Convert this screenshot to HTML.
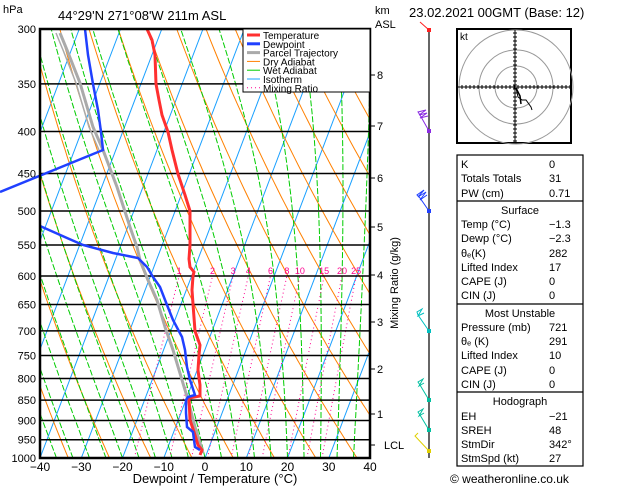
<!DOCTYPE html>
<html><head><meta charset="utf-8">
<style>
html,body{margin:0;padding:0;background:#fff;}
svg{display:block;font-family:"Liberation Sans",sans-serif;}
</style></head>
<body>
<svg id="s" width="629" height="486" viewBox="0 0 629 486" xmlns="http://www.w3.org/2000/svg">
<defs><clipPath id="c"><rect x="40" y="29" width="330" height="429"/></clipPath></defs>
<g id="bg" clip-path="url(#c)"></g>
<g id="fg"></g>
</svg>
<script>
var NS="http://www.w3.org/2000/svg";
var bg=document.getElementById('bg'),fg=document.getElementById('fg'),S=document.getElementById('s');
function el(p,t,a,txt){var e=document.createElementNS(NS,t);for(var k in a)e.setAttribute(k,a[k]);if(txt!=null)e.textContent=txt;p.appendChild(e);return e;}
function Y(p){return 29+Math.log(p/300)/Math.log(1000/300)*429;}
function X(T,p){return 205+T*4.125+(458-Y(p))*0.38;}
function pl(g,pts,a){a.points=pts.map(function(q){return q[0].toFixed(1)+","+q[1].toFixed(1)}).join(" ");a.fill="none";return el(g,"polyline",a);}
// isotherms
for(var T=-130;T<=40;T+=10){pl(bg,[[X(T,1000),458],[X(T,300),29]],{stroke:"#19a0ff","stroke-width":1});}
// dry adiabats
for(var th=220;th<=480;th+=10){var pts=[];for(var p=1000;p>=300;p-=10){pts.push([X(th*Math.pow(p/1000,0.286)-273.15,p),Y(p)]);}pl(bg,pts,{stroke:"#ff8000","stroke-width":1});}
// wet adiabats
function es(T){return 6.112*Math.exp(17.67*T/(T+243.5));}
for(var T0=-40;T0<=40;T0+=4){var T=T0+273.15,pts=[];for(var p=1000;p>=300;p-=5){pts.push([X(T-273.15,p),Y(p)]);var e=es(T-273.15),rs=0.622*e/(p-e);var d=(287*T+2.5e6*rs)/(1004+2.5e6*2.5e6*rs*0.622/(287*T*T))/p;T-=d*5;}pl(bg,pts,{stroke:"#00cc00","stroke-width":1,"stroke-dasharray":"6,2"});}
// mixing ratio
[1,2,3,4,6,8,10,15,20,25].forEach(function(w){var pts=[];for(var p=1000;p>=600;p-=10){var e=w/1000*p/(0.622+w/1000),l=Math.log(e/6.112);pts.push([X(243.5*l/(17.67-l),p),Y(p)]);}pl(bg,pts,{stroke:"#ff0090","stroke-width":1,"stroke-dasharray":"1,3"});
var lt=Math.log(w/1000*600/(0.622+w/1000)/6.112);el(fg,"text",{x:X(243.5*lt/(17.67-lt),600),y:274,"font-size":9,fill:"#ff0090","text-anchor":"middle"},w);});
// isobars
[300,350,400,450,500,550,600,650,700,750,800,850,900,950,1000].forEach(function(p){var y=Y(p);el(fg,"line",{x1:40,x2:370,y1:y,y2:y,stroke:"#000","stroke-width":1.5});el(fg,"text",{x:36,y:y+4,"font-size":11,"text-anchor":"end"},p);});
// profiles
pl(fg,[[60,33],[67,50],[80,83],[93,127],[103,150],[117,187],[130,227],[137,247],[140,260],[148,280],[157,300],[165,327],[173,350],[182,380],[188,400],[195,427],[200,443],[203,453]],{stroke:"#aaa","stroke-width":3});
pl(fg,[[56,33],[63,50],[76,83],[89,127],[99,150]],{stroke:"#aaa","stroke-width":1.5});
pl(fg,[[147,29],[152,40],[155,55],[156,84],[159,100],[162,115],[168,132],[172,150],[178,174],[185,195],[190,211],[190,245],[189,259],[190,267],[194,272],[193,276],[192,290],[193,304],[195,331],[200,345],[199,355],[198,370],[199,378],[200,385],[200,396],[189,398],[190,420],[195,435],[198,445],[202,450],[200,455]],{stroke:"#ff3030","stroke-width":3});
pl(fg,[[85,29],[88,55],[93,84],[98,110],[101,132],[103,150],[0,192]],{stroke:"#2040ff","stroke-width":2.5});
pl(fg,[[40,226],[67,238],[83,245],[113,253],[138,258],[147,267],[153,277],[160,287],[167,305],[173,320],[182,337],[185,350],[187,367],[190,380],[195,395],[188,397],[186,400],[186,413],[187,427],[193,432],[194,440],[195,447],[200,450]],{stroke:"#2040ff","stroke-width":2.5});
// frame
el(fg,"rect",{x:40,y:29,width:330,height:429,fill:"none",stroke:"#000","stroke-width":2.5});
// x labels
for(var t=-40;t<=40;t+=10){el(fg,"text",{x:40+(t+40)*4.125,y:471,"font-size":12,"text-anchor":"middle"},(t<0?"\u2212"+(-t):t));}
el(fg,"text",{x:215,y:483,"font-size":13,"text-anchor":"middle"},"Dewpoint / Temperature (\u00b0C)");
el(fg,"text",{x:3,y:13,"font-size":11},"hPa");
el(fg,"text",{x:58,y:20,"font-size":13},"44\u00b029'N  271\u00b008'W  211m  ASL");
el(fg,"text",{x:375,y:14,"font-size":11},"km");
el(fg,"text",{x:375,y:28,"font-size":11},"ASL");
el(fg,"text",{x:409,y:17,"font-size":13},"23.02.2021  00GMT  (Base: 12)");
// km
[[8,75],[7,126],[6,178],[5,227],[4,275],[3,322],[2,369],[1,414]].forEach(function(k){el(fg,"line",{x1:370,x2:375,y1:k[1],y2:k[1],stroke:"#000"});el(fg,"text",{x:377,y:k[1]+4,"font-size":11},k[0]);});
el(fg,"line",{x1:370,x2:375,y1:445,y2:445,stroke:"#000"});el(fg,"text",{x:384,y:449,"font-size":11},"LCL");
el(fg,"text",{x:0,y:0,"font-size":11,transform:"translate(398,283) rotate(-90)","text-anchor":"middle"},"Mixing Ratio (g/kg)");
// legend
el(fg,"rect",{x:243,y:29,width:127,height:63,fill:"#fff",stroke:"#000","stroke-width":1});
[["Temperature","#ff3030",3,0],["Dewpoint","#2040ff",3,0],["Parcel Trajectory","#aaa",3,0],["Dry Adiabat","#ff8000",1,0],["Wet Adiabat","#00cc00",1,0],["Isotherm","#19a0ff",1,0],["Mixing Ratio","#ff0090",1,1]].forEach(function(r,i){var y=35+i*8.8;var a={x1:247,x2:260,y1:y,y2:y,stroke:r[1],"stroke-width":r[2]};if(r[3])a["stroke-dasharray"]="1,3";el(fg,"line",a);el(fg,"text",{x:263,y:y+4,"font-size":10},r[0]);});
// wind column
el(fg,"line",{x1:429,x2:429,y1:30,y2:458,stroke:"#000","stroke-width":1.2});
[[30,"#ff2020",[[429,30],[420,22]]],[131,"#8a2be2",[[429,131],[420,115],[418,112],[426,110],[419,115],[427,113],[420,118],[428,116]]],[211,"#2040ff",[[429,211],[420,198],[417,195],[424,190],[418,197],[426,192],[420,200],[427,195]]],[331,"#00c0c0",[[429,331],[418,315],[417,312],[422,309],[418,316],[424,313]]],[400,"#00c0a0",[[429,400],[420,385],[418,382],[423,379],[419,386],[424,383]]],[430,"#00c0a0",[[429,430],[420,415],[418,412],[423,409],[419,416],[424,413]]],[451,"#e0d000",[[429,451],[415,436],[418,433]]]].forEach(function(b){pl(fg,b[2],{stroke:b[1],"stroke-width":1});el(fg,"rect",{x:427,y:b[0]-2,width:4,height:4,fill:b[1]});});
// hodograph
el(fg,"rect",{x:457,y:29,width:114,height:114,fill:"#fff",stroke:"#000","stroke-width":2});
[21,37,57].forEach(function(r){el(fg,"circle",{cx:516,cy:87,r:r,fill:"none",stroke:"#999","stroke-width":1});});
el(fg,"line",{x1:458,x2:570,y1:87,y2:87,stroke:"#000"});el(fg,"line",{x1:515,x2:515,y1:30,y2:142,stroke:"#000"});
for(var i=-54;i<=54;i+=4){el(fg,"line",{x1:516+i,x2:516+i,y1:85,y2:89,stroke:"#000"});el(fg,"line",{y1:87+i,y2:87+i,x1:513,x2:517,stroke:"#000"});}
el(fg,"text",{x:460,y:40,"font-size":10},"kt");
pl(fg,[[516,88],[518,97],[522,100],[526,100],[531,107],[532,110]],{stroke:"#000","stroke-width":1});
pl(fg,[[516,88],[520,96],[521,104]],{stroke:"#000","stroke-width":1.5});
// table
el(fg,"rect",{x:457,y:155,width:126,height:311,fill:"#fff",stroke:"#000","stroke-width":1.2});
[201,304,392].forEach(function(y){el(fg,"line",{x1:457,x2:583,y1:y,y2:y,stroke:"#000","stroke-width":1.2});});
var rows=[["K","0",168],["Totals Totals","31",182],["PW (cm)","0.71",197],[null,"Surface",214],["Temp (\u00b0C)","\u22121.3",228],["Dewp (\u00b0C)","\u22122.3",242],["\u03b8\u2091(K)","282",257],["Lifted Index","17",271],["CAPE (J)","0",285],["CIN (J)","0",299],[null,"Most Unstable",317],["Pressure (mb)","721",331],["\u03b8\u2091 (K)","291",345],["Lifted Index","10",359],["CAPE (J)","0",374],["CIN (J)","0",388],[null,"Hodograph",405],["EH","\u221221",420],["SREH","48",434],["StmDir","342\u00b0",448],["StmSpd (kt)","27",462]];
rows.forEach(function(r){if(r[0]===null){el(fg,"text",{x:520,y:r[2],"font-size":11,"text-anchor":"middle"},r[1]);}else{el(fg,"text",{x:461,y:r[2],"font-size":11},r[0]);el(fg,"text",{x:549,y:r[2],"font-size":11},r[1]);}});
el(fg,"text",{x:450,y:483,"font-size":12},"\u00a9 weatheronline.co.uk");
</script>
</body></html>
